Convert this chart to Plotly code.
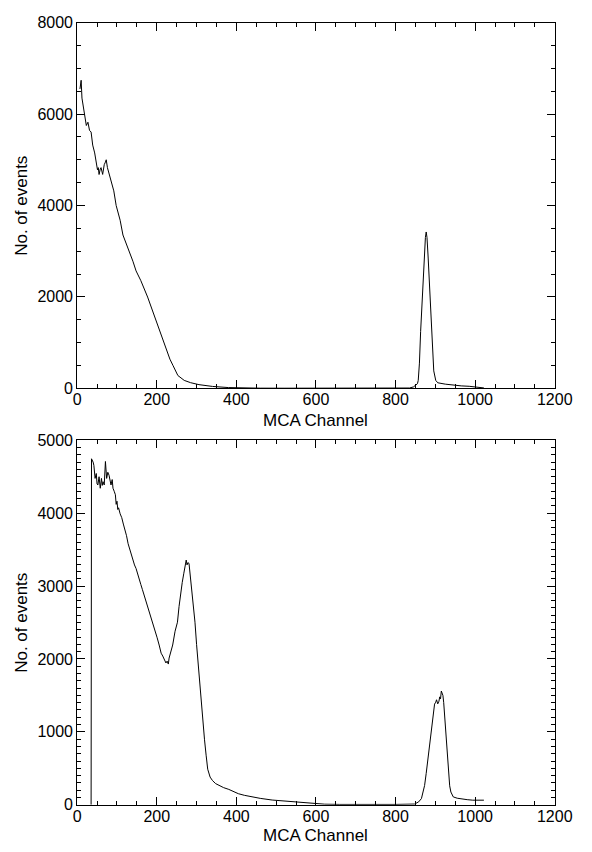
import plotly.graph_objects as go

# ---------------- data ----------------
top_channel = [7, 10, 12, 15, 17, 19, 23, 27, 31, 35, 39, 44, 48, 51, 53, 55, 58, 60, 64, 66,
               68, 71, 73, 76, 82, 88, 92, 98, 104, 108, 115, 120, 126, 132, 140, 148, 160,
               177, 189, 201, 209, 221, 233, 241, 253, 269, 285, 306, 340, 380, 420, 460,
               520, 600, 700, 800, 835, 845, 850, 855, 857, 860, 863, 866, 869, 872, 875,
               877, 879, 882, 885, 888, 890, 893, 896, 901, 906, 925, 945, 965, 985, 1005, 1022]
top_counts = [6550, 6740, 6350, 6180, 6100, 5966, 5750, 5822, 5644, 5607, 5322, 5150, 4893,
              4780, 4828, 4678, 4800, 4828, 4680, 4820, 4893, 4950, 5000, 4828, 4614, 4400,
              4320, 3998, 3820, 3676, 3354, 3247, 3104, 2961, 2780, 2568, 2354, 1996, 1710,
              1423, 1208, 923, 637, 494, 279, 172, 122, 79, 40, 15, 5, 2, 1, 0, 0, 2, 5, 30,
              60, 100, 172, 550, 1245, 1800, 2400, 2900, 3300, 3420, 3300, 2850, 2318, 1700,
              1245, 750, 380, 172, 120, 90, 64, 52, 43, 25, 7]

bottom_channel = [35, 36, 40, 42, 45, 48, 50, 52, 55, 58, 61, 63, 65, 68, 71, 74, 77, 80, 83,
                  85, 88, 90, 93, 96, 98, 100, 102, 104, 108, 112, 116, 120, 124, 128, 132,
                  136, 140, 144, 148, 152, 156, 160, 164, 169, 174, 179, 184, 189, 193, 197,
                  201, 206, 211, 215, 219, 223, 226, 229, 231, 235, 240, 246, 252, 256, 260,
                  264, 268, 271, 274, 276, 278, 281, 284, 288, 292, 296, 300, 304, 308, 312,
                  316, 320, 324, 328, 334, 340, 348, 356, 368, 381, 393, 405, 420, 437, 460,
                  490, 520, 542, 565, 590, 622, 660, 700, 760, 800, 848, 858, 865, 869, 873,
                  877, 881, 885, 889, 892, 895, 898, 901, 903, 906, 909, 911, 913, 915, 917,
                  919, 921, 923, 925, 928, 931, 933, 936, 939, 945, 955, 969, 980, 994, 1008, 1022]
bottom_counts = [0, 4745, 4700, 4655, 4476, 4543, 4400, 4386, 4499, 4341, 4476, 4380, 4431,
                 4386, 4708, 4476, 4560, 4520, 4440, 4386, 4460, 4341, 4300, 4252, 4120, 4163,
                 4050, 4073, 3990, 3938, 3850, 3781, 3690, 3580, 3500, 3423, 3350, 3289, 3240,
                 3176, 3100, 3020, 2950, 2863, 2770, 2684, 2600, 2527, 2440, 2370, 2290, 2191,
                 2079, 2040, 1980, 1945, 1970, 1930, 2012, 2080, 2191, 2380, 2504, 2720, 2907,
                 3050, 3176, 3280, 3356, 3290, 3320, 3311, 3150, 2953, 2750, 2504, 2200, 1922,
                 1650, 1384, 1120, 891, 680, 488, 380, 332, 290, 265, 235, 211, 180, 152, 130,
                 108, 88, 65, 50, 40, 28, 17, 8, 5, 3, 3, 5, 10, 40, 85, 160, 265, 430, 622,
                 800, 981, 1150, 1295, 1380, 1407, 1440, 1384, 1420, 1480, 1452, 1560, 1520,
                 1500, 1400, 1250, 1050, 847, 600, 399, 260, 175, 108, 90, 76, 70, 63, 65, 63]

x_range = [0, 1200]
top_y_range = [0, 8000]
bottom_y_range = [0, 5000]
x_title = "MCA Channel"
y_title = "No. of events"

# ---------------- figure ----------------
W, H = 592, 852
FONT = "Liberation Sans, Arial, Helvetica, sans-serif"

fig = go.Figure()
fig.add_trace(go.Scatter(x=top_channel, y=top_counts, mode="lines",
                         line=dict(color="black", width=1), xaxis="x", yaxis="y",
                         showlegend=False, hoverinfo="skip"))
fig.add_trace(go.Scatter(x=bottom_channel, y=bottom_counts, mode="lines",
                         line=dict(color="black", width=1), xaxis="x2", yaxis="y2",
                         showlegend=False, hoverinfo="skip"))


def ax(rng, dtick, minor_dtick, domain, anchor, standoff):
    return dict(range=rng, dtick=dtick, tick0=0, domain=domain, anchor=anchor,
                showline=True, linecolor="black", linewidth=1, mirror="ticks",
                ticks="inside", ticklen=8, tickwidth=1, tickcolor="black",
                showgrid=False, zeroline=False, ticklabelstandoff=standoff,
                tickfont=dict(family=FONT, size=16, color="black"),
                minor=dict(ticks="inside", ticklen=4, tickwidth=1, tickcolor="black",
                           dtick=minor_dtick, tick0=0, showgrid=False))


xdom = [76 / W, 572 / W]
top_dom = [1 - 388 / H, 1 - 15 / H]
bot_dom = [1 - 813 / H, 1 - 441 / H]

fig.update_layout(
    width=W, height=H,
    margin=dict(l=0, r=0, t=0, b=0),
    paper_bgcolor="white", plot_bgcolor="white",
    xaxis=ax(x_range, 200, 50, xdom, "y", -3),
    yaxis=ax(top_y_range, 2000, 500, top_dom, "x", 0),
    xaxis2=ax(x_range, 200, 50, xdom, "y2", -3),
    yaxis2=ax(bottom_y_range, 1000, 100, bot_dom, "x2", 0),
)

ann_font = dict(family=FONT, size=17, color="black")
annotations = [
    dict(text=y_title, x=18 / W, y=1 - 201.5 / H, xref="paper", yref="paper",
         textangle=-90, showarrow=False, font=ann_font, xanchor="center", yanchor="middle"),
    dict(text=y_title, x=18 / W, y=1 - 627 / H, xref="paper", yref="paper",
         textangle=-90, showarrow=False, font=ann_font, xanchor="center", yanchor="middle"),
    dict(text=x_title, x=324 / W, y=1 - 421 / H, xref="paper", yref="paper",
         showarrow=False, font=ann_font, xanchor="center", yanchor="middle"),
    dict(text=x_title, x=324 / W, y=1 - 844 / H, xref="paper", yref="paper",
         showarrow=False, font=ann_font, xanchor="center", yanchor="middle"),
]
fig.update_layout(annotations=annotations)

fig.write_html("out.html")
